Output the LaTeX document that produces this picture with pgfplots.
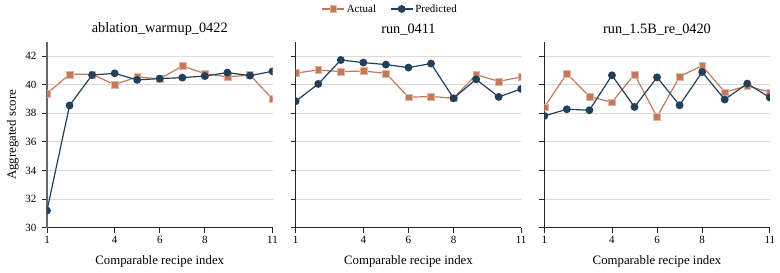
\documentclass[border=0pt]{standalone}
\usepackage{pgfplots}
\pgfplotsset{compat=1.18}
\usepackage{fontspec}
\setmainfont{Liberation Serif}

\definecolor{actualc}{HTML}{C4795A}
\definecolor{predc}{HTML}{22405A}

% Per-run scores: index, actual, predicted
\pgfplotstableread{
x  act   pred
1  39.38 31.20
2  40.72 38.54
3  40.72 40.67
4  40.00 40.79
5  40.54 40.33
6  40.40 40.42
7  41.30 40.49
8  40.77 40.60
9  40.54 40.84
10 40.67 40.63
11 39.00 40.93
}\runA
\pgfplotstableread{
x  act   pred
1  40.81 38.84
2  41.02 40.05
3  40.91 41.72
4  40.95 41.54
5  40.79 41.40
6  39.12 41.19
7  39.17 41.47
8  39.05 39.05
9  40.70 40.37
10 40.23 39.14
11 40.53 39.70
}\runB
\pgfplotstableread{
x  act   pred
1  38.42 37.81
2  40.77 38.28
3  39.17 38.21
4  38.77 40.65
5  40.72 38.44
6  37.74 40.51
7  40.56 38.56
8  41.33 40.88
9  39.47 38.96
10 39.91 40.07
11 39.47 39.10
}\runC

\pgfplotsset{
  panel/.style={
    scale only axis,
    width=225.5pt, height=186pt,
    anchor=south west,
    xmin=1, xmax=11, ymin=30, ymax=43,
    xtick={1,4,6,8,11},
    xticklabels={1,4,6,8,11},
    ytick={30,32,...,42},
    axis x line*=bottom, axis y line*=left,
    axis line style={black!85, line width=0.8pt},
    tick align=outside,
    major tick length=5pt,
    tick style={black!85, line width=0.8pt},
    ymajorgrids,
    grid style={black!14, line width=0.8pt},
    ticklabel style={font=\fontsize{11}{13}\selectfont},
    yticklabel style={xshift=-2pt},
    xlabel={Comparable recipe index},
    xlabel style={font=\fontsize{12.8}{14}\selectfont, yshift=-5pt},
    title style={font=\fontsize{14.3}{16}\selectfont, yshift=-3pt},
    clip marker paths=true,
  },
  act/.style={color=actualc, line width=1.2pt, mark=square*, mark size=3.4pt,
    mark options={fill=actualc, draw=actualc!55!white, line width=0.4pt}},
  pred/.style={color=predc, line width=1.2pt, mark=*, mark size=3.3pt,
    mark options={fill=predc, draw=predc}},
}

\begin{document}
\begin{tikzpicture}
\path[use as bounding box] (0pt,0pt) rectangle (780pt,273pt);

\begin{axis}[panel, at={(47pt,45.3pt)},
  title={ablation\_warmup\_0422},
  yticklabels={30,32,34,36,38,40,42},
  y axis line style={black!60, line width=1.2pt},
  ylabel={Aggregated score},
  ylabel style={font=\fontsize{12.8}{14}\selectfont, yshift=0pt}]
\addplot[act] table[x=x,y=act] {\runA};
\addplot[pred] table[x=x,y=pred] {\runA};
\end{axis}

\begin{axis}[panel, at={(295.7pt,45.3pt)},
  title={run\_0411},
  yticklabels={},
  legend columns=2,
  legend style={draw=none, fill=none, at={(0.419,1.176)}, anchor=center,
    font=\fontsize{11}{13}\selectfont,
    /tikz/every even column/.append style={column sep=12pt}},
  legend image code/.code={
    \draw[#1, mark repeat=2, mark phase=2] plot coordinates {(0pt,0pt) (11pt,0pt) (22pt,0pt)};}]
\addplot[act] table[x=x,y=act] {\runB};
\addplot[pred] table[x=x,y=pred] {\runB};
\legend{Actual, Predicted}
\end{axis}

\begin{axis}[panel, at={(544.3pt,45.3pt)},
  title={run\_1.5B\_re\_0420},
  yticklabels={}]
\addplot[act] table[x=x,y=act] {\runC};
\addplot[pred] table[x=x,y=pred] {\runC};
\end{axis}
\end{tikzpicture}
\end{document}
